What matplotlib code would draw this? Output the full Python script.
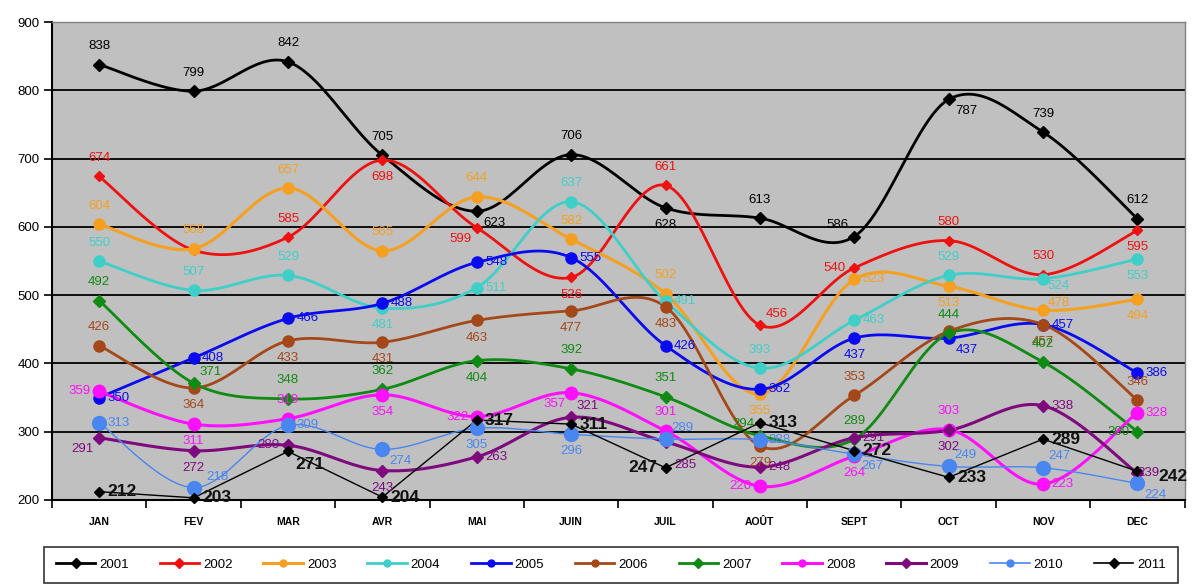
import numpy as np
import matplotlib
matplotlib.use("Agg")
import matplotlib.pyplot as plt
from matplotlib.lines import Line2D

plt.rcParams['font.family'] = ['Liberation Sans', 'DejaVu Sans']

months = ["JAN", "FEV", "MAR", "AVR", "MAI", "JUIN", "JUIL", "AOÛT", "SEPT", "OCT", "NOV", "DEC"]
years = ["2001", "2002", "2003", "2004", "2005", "2006", "2007", "2008", "2009", "2010", "2011"]

v2001 = [838, 799, 842, 705, 623, 706, 628, 613, 586, 787, 739, 612]
v2002 = [674, 566, 585, 698, 599, 526, 661, 456, 540, 580, 530, 595]
v2003 = [604, 568, 657, 565, 644, 582, 502, 355, 523, 513, 478, 494]
v2004 = [550, 507, 529, 481, 511, 637, 491, 393, 463, 529, 524, 553]
v2005 = [350, 408, 466, 488, 548, 555, 426, 362, 437, 437, 457, 386]
v2006 = [426, 364, 433, 431, 463, 477, 483, 279, 353, 447, 457, 346]
v2007 = [492, 371, 348, 362, 404, 392, 351, 294, 289, 444, 402, 300]
v2008 = [359, 311, 319, 354, 322, 357, 301, 220, 264, 303, 223, 328]
v2009 = [291, 272, 280, 243, 263, 321, 285, 248, 291, 302, 338, 239]
v2010 = [313, 218, 309, 274, 305, 296, 289, 288, 267, 249, 247, 224]
v2011 = [212, 203, 271, 204, 317, 311, 247, 313, 272, 233, 289, 242]

series = [v2001, v2002, v2003, v2004, v2005, v2006, v2007, v2008, v2009, v2010, v2011]
colors = ["#000000", "#EE1111", "#F5A021", "#3FCFC9", "#0A0AF0", "#A4481A",
          "#0F8A12", "#FF10FF", "#7E0A7E", "#4A86F0", "#000000"]
widths = [2.0, 2.0, 2.2, 2.0, 2.0, 2.0, 2.0, 2.2, 2.2, 1.0, 1.0]
msizes = [8, 6, 8, 8, 8, 8, 8, 9, 8, 10, 6]
markers = ["D", "D", "o", "o", "o", "o", "D", "o", "D", "o", "D"]
smoothed = [True] * 10 + [False]

# label placement per series (a=above, b=below, r=right, l=left, n=none,
# or an explicit (dx, dy, ha, va) offset in points)
place = [
    ["a", "a", "a", "a", "br", "a", "b", "a", "al", "br", "a", "a"],
    ["a", "n", "a", "b", "bl", "b", "a", "ar", "l", "a", "a", "b"],
    ["a", "a", "a", "a", "a", "a", "a", "b", "r", "b", (3, 1, "left", "bottom"), "b"],
    ["a", "a", "a", "b", "r", "a", "r", "a", "r", "a", (3, -1, "left", "top"), "b"],
    ["r", "r", "r", "r", "r", "r", "r", "r", "b", "br", "r", "r"],
    ["a", "b", "b", "b", "b", "b", "b", "b", "a", "n", "b", "a"],
    ["a", "ar", "a", "a", "b", "a", "a", "al", "a", "a", "a", "l"],
    ["l", "b", "a", "b", "l", "bl", "a", "l", "b", "a", "r", "r"],
    ["bl", "b", "l", "b", "r", "ar", (6, -12, "left", "top"), "r", "r", "b", "r", (0, 0, "left", "center")],
    ["r", (9, 3, "left", "bottom"), "r", "br", "b", "b", "ar", "r", "br", "ar", "ar", "br"],
    ["r", "r", "br", "r", "r", "r", "l", "r", "r", "r", "r", (15, -4, "left", "center")],
]
offsets = {
    "a": (0, 9, "center", "bottom"),
    "b": (0, -8, "center", "top"),
    "r": (6, 0, "left", "center"),
    "l": (-6, 0, "right", "center"),
    "br": (5, -4, "left", "top"),
    "bl": (-4, -4, "right", "top"),
    "ar": (4, 4, "left", "bottom"),
    "al": (-4, 4, "right", "bottom"),
}


def smooth(xs, ys, n=24):
    """Catmull-Rom curve through the points, like a smoothed Excel line."""
    xs = np.asarray(xs, float)
    ys = np.asarray(ys, float)
    px = np.concatenate([[xs[0]], xs, [xs[-1]]])
    py = np.concatenate([[ys[0]], ys, [ys[-1]]])
    outx, outy = [], []
    for i in range(1, len(px) - 2):
        p0, p1, p2, p3 = (np.array([px[j], py[j]]) for j in (i - 1, i, i + 1, i + 2))
        c1 = p1 + (p2 - p0) / 6
        c2 = p2 - (p3 - p1) / 6
        t = np.linspace(0, 1, n)[:, None]
        pts = ((1 - t) ** 3) * p1 + 3 * ((1 - t) ** 2) * t * c1 + 3 * (1 - t) * t ** 2 * c2 + t ** 3 * p2
        outx.extend(pts[:, 0])
        outy.extend(pts[:, 1])
    return np.array(outx), np.array(outy)


fig = plt.figure(figsize=(11.93, 5.86), dpi=100)
ax = fig.add_axes([0.0436, 0.147, 0.9494, 0.815])
ax.set_facecolor("#C0C0C0")

x = np.arange(len(months))
handles = []
for k, (vals, col) in enumerate(zip(series, colors)):
    if smoothed[k]:
        sx, sy = smooth(x, vals)
    else:
        sx, sy = x, vals
    ax.plot(sx, sy, color=col, lw=widths[k], zorder=3 + k * 0.01, clip_on=False)
    ax.plot(x, vals, ls="none", marker=markers[k], ms=msizes[k] * (0.8 if markers[k] == "D" else 1),
            color=col, zorder=4, clip_on=False)
    for i, v in enumerate(vals):
        code = place[k][i]
        if code == "n":
            continue
        dx, dy, ha, va = offsets[code] if isinstance(code, str) else code
        if k == 10:
            ax.annotate(str(v), (i, v), xytext=(dx, dy), textcoords="offset points",
                        ha=ha, va=va, fontsize=12.5, fontweight="bold", color="#111111",
                        zorder=6, annotation_clip=False)
        else:
            ax.annotate(str(v), (i, v), xytext=(dx, dy), textcoords="offset points",
                        ha=ha, va=va, fontsize=9.5, color=col, zorder=6, annotation_clip=False)
    handles.append(Line2D([], [], color=col, lw=max(widths[k], 1.4) if k < 9 else 1.2,
                          marker=markers[k], ms=5))

ax.set_xlim(-0.5, len(months) - 0.5)
ax.set_ylim(200, 900)
ax.set_yticks(range(200, 901, 100))
ax.set_yticklabels([str(t) for t in range(200, 901, 100)], fontsize=9.5)
for yy in range(300, 900, 100):
    ax.axhline(yy, color="black", lw=1.3, zorder=1)

ax.set_xticks(x)
ax.set_xticklabels(months, fontsize=7.5, fontweight="bold")
ax.tick_params(axis="x", length=0, pad=12)
ax.set_xticks(np.arange(-0.5, len(months), 1), minor=True)
ax.tick_params(axis="x", which="minor", length=6, width=1.2, direction="out")
ax.tick_params(axis="y", length=6, width=1.2, direction="out", pad=3)

for side in ("left", "bottom"):
    ax.spines[side].set_color("black")
    ax.spines[side].set_linewidth(1.5)
for side in ("top", "right"):
    ax.spines[side].set_color("#808080")
    ax.spines[side].set_linewidth(1.0)

leg = ax.legend(handles, years, loc="upper left", bbox_to_anchor=(-0.013, -0.084, 1.013, 0.0),
                mode="expand", ncol=11, frameon=True, fancybox=False, fontsize=9.5,
                handlelength=3.0, handletextpad=0.3, borderpad=0.9, columnspacing=1.0)
leg.get_frame().set_edgecolor("black")
leg.get_frame().set_linewidth(1.2)

fig.savefig("out.png", dpi=100, facecolor="white")
